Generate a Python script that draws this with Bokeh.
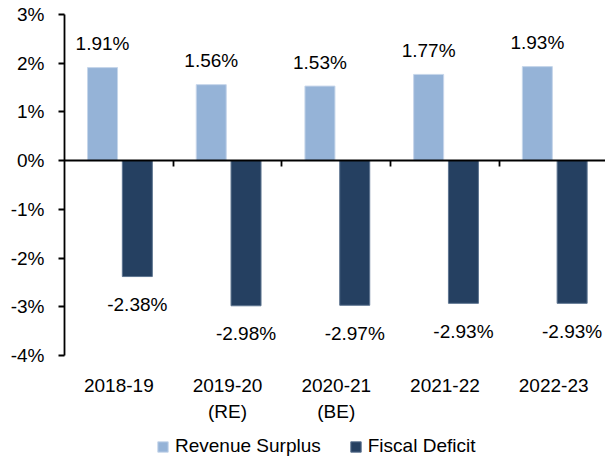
import numpy as np
from bokeh.plotting import figure
from bokeh.models import Range1d, FixedTicker, LinearAxis, Legend, LegendItem, ColumnDataSource
from bokeh.core.properties import value
from bokeh.embed import file_html
from bokeh.resources import INLINE

categories = ["2018-19", "2019-20\n(RE)", "2020-21\n(BE)", "2021-22", "2022-23"]
revenue_surplus = [1.91, 1.56, 1.53, 1.77, 1.93]
fiscal_deficit = [-2.38, -2.98, -2.97, -2.93, -2.93]
y_ticks = [-4, -3, -2, -1, 0, 1, 2, 3]

FONT = "Liberation Sans"
FS = "19px"
C_REV = "#95B3D7"
C_FIS = "#254061"

n = len(categories)
centers = np.arange(n) + 0.5
x_rev = centers - 0.15
x_fis = centers + 0.17
y_min, y_max = min(y_ticks), max(y_ticks)

# frame extends below the value axis so the legend can sit inside it
p = figure(width=605, height=467, output_backend="svg", toolbar_location=None,
           x_range=Range1d(0, 4.977), y_range=Range1d(-6.30, y_max),
           x_axis_location=None,
           min_border_left=64, min_border_right=0, min_border_top=14, min_border_bottom=0)
p.outline_line_color = None
p.xgrid.visible = False
p.ygrid.visible = False
p.background_fill_color = "white"
p.border_fill_color = "white"

src_r = ColumnDataSource(dict(x=x_rev, top=revenue_surplus,
                              lab=[f"{v:.2f}%" for v in revenue_surplus]))
src_f = ColumnDataSource(dict(x=x_fis, top=fiscal_deficit,
                              lab=[f"{v:.2f}%" for v in fiscal_deficit]))

r1 = p.vbar(x="x", top="top", bottom=0, width=0.276, source=src_r,
            fill_color=C_REV, line_color="#c6d6ea", line_width=1)
r2 = p.vbar(x="x", top="top", bottom=0, width=0.276, source=src_f,
            fill_color=C_FIS, line_color="#5d7490", line_width=1)

p.text(x="x", y="top", text="lab", source=src_r, text_align="center",
       text_baseline="middle", y_offset=-24, text_font=value(FONT),
       text_font_size=FS, text_color="black")
p.text(x="x", y="top", text="lab", source=src_f, text_align="center",
       text_baseline="middle", y_offset=28, text_font=value(FONT),
       text_font_size=FS, text_color="black")

# y axis
ya = p.yaxis[0]
ya.ticker = FixedTicker(ticks=y_ticks)
ya.bounds = (y_min, y_max)
ya.major_label_overrides = {t: f"{t}%" for t in y_ticks}
ya.major_label_text_font = FONT
ya.major_label_text_font_size = FS
ya.major_label_text_color = "black"
ya.axis_line_color = "black"
ya.axis_line_width = 1.8
ya.major_tick_line_color = "black"
ya.major_tick_line_width = 1.8
ya.major_tick_out = 6
ya.major_tick_in = 0
ya.minor_tick_line_color = None
ya.major_label_standoff = 14

# category label axis placed at the bottom of the value scale
xa = LinearAxis(fixed_location=y_min, ticker=FixedTicker(ticks=list(centers)))
xa.major_label_overrides = {float(c): lab for c, lab in zip(centers, categories)}
xa.major_label_text_font = FONT
xa.major_label_text_font_size = FS
xa.major_label_text_color = "black"
xa.axis_line_color = None
xa.major_tick_line_color = None
xa.minor_tick_line_color = None
xa.major_tick_out = 0
xa.major_tick_in = 0
xa.major_label_standoff = 20
p.add_layout(xa, "below")

# zero axis with category boundary ticks
za = LinearAxis(fixed_location=0, ticker=FixedTicker(ticks=list(np.arange(1, n + 1))))
za.major_label_text_font_size = "0px"
za.major_label_text_alpha = 0
za.axis_line_color = "black"
za.axis_line_width = 1.8
za.major_tick_line_color = "black"
za.major_tick_line_width = 1.8
za.major_tick_out = 6
za.major_tick_in = 0
za.minor_tick_line_color = None
p.add_layout(za, "below")

legend = Legend(items=[LegendItem(label="Revenue Surplus", renderers=[r1]),
                       LegendItem(label="Fiscal Deficit", renderers=[r2])],
                orientation="horizontal", location=(92, 10),
                glyph_width=13, glyph_height=13, label_standoff=6, spacing=28,
                padding=0, margin=0, border_line_color=None,
                background_fill_alpha=0,
                label_text_font=FONT, label_text_font_size=FS,
                label_text_color="black", label_height=22)
p.add_layout(legend, "center")

open("out.html", "w").write(file_html(p, INLINE))
